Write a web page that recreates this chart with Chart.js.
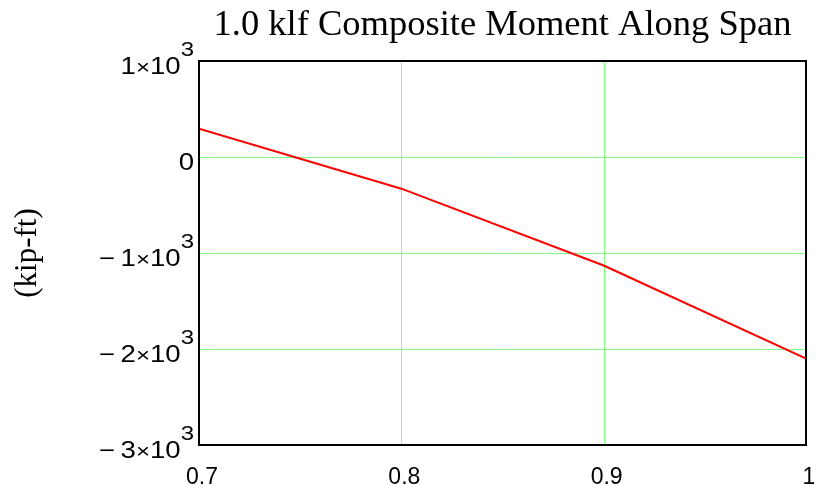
<!DOCTYPE html>
<html>
<head>
<meta charset="utf-8">
<script src="https://cdn.jsdelivr.net/npm/chart.js@4/dist/chart.umd.min.js"></script>
<style>
  html, body { margin: 0; padding: 0; background: #fff; }
  #wrap { width: 817px; height: 485px; }
</style>
</head>
<body>
<div id="wrap"><canvas id="c" width="817" height="485"></canvas></div>
<script>
// ---- data ----
const spanFraction = [0.7, 0.8, 0.9, 1.0];
const momentKipFt = [295, -330, -1130, -2100];
const xTickValues = [0.7, 0.8, 0.9, 1.0];
const xTickLabels = ['0.7', '0.8', '0.9', '1'];
const yTickValues = [1000, 0, -1000, -2000, -3000];
const yTickMantissa = ['1', '0', '\u2212\u20091', '\u2212\u20092', '\u2212\u20093'];
const yTickExponent = ['3', '', '3', '3', '3'];
const chartTitle = '1.0 klf Composite Moment Along Span';
const yAxisTitle = '(kip-ft)';

const GRID = 'rgb(128,255,128)';
const SANS = '"Liberation Sans", Arial, sans-serif';
const SERIF = '"Liberation Serif", "Times New Roman", serif';

function drawStretched(ctx, text, x, baseline, sx) {
  ctx.save();
  ctx.translate(x, baseline);
  ctx.scale(sx, 1);
  ctx.fillText(text, 0, 0);
  ctx.restore();
}

const customDraw = {
  id: 'customDraw',
  beforeDatasetsDraw(chart) {
    // grid lines at the scale ticks
    const ctx = chart.ctx;
    const a = chart.chartArea;
    const xs = chart.scales.x, ys = chart.scales.y;
    ctx.save();
    ctx.strokeStyle = GRID;
    ctx.lineWidth = 1;
    ctx.beginPath();
    xs.ticks.forEach(t => {
      const px = Math.round(xs.getPixelForValue(t.value)) + 0.5;
      ctx.moveTo(px, a.top); ctx.lineTo(px, a.bottom);
    });
    ys.ticks.forEach(t => {
      const py = Math.round(ys.getPixelForValue(t.value)) + 0.5;
      ctx.moveTo(a.left, py); ctx.lineTo(a.right, py);
    });
    ctx.stroke();
    ctx.restore();
  },
  afterDatasetsDraw(chart) {
    const ctx = chart.ctx;
    const a = chart.chartArea;
    ctx.save();
    ctx.strokeStyle = '#000';
    ctx.lineWidth = 2;
    ctx.strokeRect(a.left, a.top, a.right - a.left, a.bottom - a.top);
    ctx.restore();
  },
  afterDraw(chart) {
    const ctx = chart.ctx;
    const ys = chart.scales.y;
    const sx = 1.2;
    const rightEdge = chart.chartArea.left - 5;
    ctx.save();
    ctx.fillStyle = '#000';
    ctx.textBaseline = 'alphabetic';
    ctx.textAlign = 'left';
    yTickValues.forEach((v, i) => {
      const y = ys.getPixelForValue(v);
      const mant = yTickMantissa[i];
      const exp = yTickExponent[i];
      if (!exp) {
        ctx.font = '23px ' + SANS;
        const w = ctx.measureText(mant).width * sx;
        drawStretched(ctx, mant, rightEdge - w, y + 12.5, sx);
        return;
      }
      ctx.font = '20px ' + SANS;
      let x = rightEdge - ctx.measureText(exp).width * sx;
      drawStretched(ctx, exp, x, y - 5, sx);
      ctx.font = '23px ' + SANS;
      x -= ctx.measureText('10').width * sx;
      drawStretched(ctx, '10', x, y + 12.5, sx);
      ctx.font = '20px ' + SANS;
      x -= ctx.measureText('\u00d7').width * sx;
      drawStretched(ctx, '\u00d7', x, y + 12.5, sx);
      ctx.font = '23px ' + SANS;
      x -= ctx.measureText(mant).width * sx;
      drawStretched(ctx, mant, x, y + 12.5, sx);
    });
    // y axis title
    const a = chart.chartArea;
    ctx.translate(36, (a.top + a.bottom) / 2);
    ctx.rotate(-Math.PI / 2);
    ctx.font = '31px ' + SERIF;
    ctx.textAlign = 'center';
    ctx.fillText(yAxisTitle, 0, 0);
    ctx.restore();
  }
};

new Chart(document.getElementById('c'), {
  type: 'line',
  data: {
    datasets: [{
      data: spanFraction.map((x, i) => ({ x: x, y: momentKipFt[i] })),
      borderColor: 'rgb(255,0,0)',
      borderWidth: 2,
      pointRadius: 0,
      tension: 0,
      fill: false
    }]
  },
  options: {
    responsive: false,
    animation: false,
    layout: { padding: { left: 0, right: 11, top: 0, bottom: 0 } },
    plugins: {
      legend: { display: false },
      tooltip: { enabled: false },
      title: {
        display: true,
        text: chartTitle,
        fullSize: false,
        color: '#000',
        font: { family: SERIF, size: 36.5, weight: 'normal' },
        padding: { top: 4, bottom: 13.2 }
      }
    },
    scales: {
      x: {
        type: 'linear',
        min: 0.7,
        max: 1.0,
        afterBuildTicks(s) { s.ticks = xTickValues.map(v => ({ value: v })); },
        afterFit(s) { s.height = 40; s.paddingLeft = 0; s.paddingRight = 0; },
        grid: { display: false },
        border: { display: false },
        ticks: {
          color: '#000',
          font: { family: SANS, size: 23 },
          padding: 11,
          labelOffset: 3,
          maxRotation: 0,
          autoSkip: false,
          callback(v, i) { return xTickLabels[i]; }
        }
      },
      y: {
        type: 'linear',
        min: -3000,
        max: 1000,
        afterBuildTicks(s) { s.ticks = yTickValues.map(v => ({ value: v })); },
        afterFit(s) { s.width = 199; s.paddingTop = 0; s.paddingBottom = 0; },
        grid: { display: false },
        border: { display: false },
        ticks: { display: false }
      }
    }
  },
  plugins: [customDraw]
});
</script>
</body>
</html>
